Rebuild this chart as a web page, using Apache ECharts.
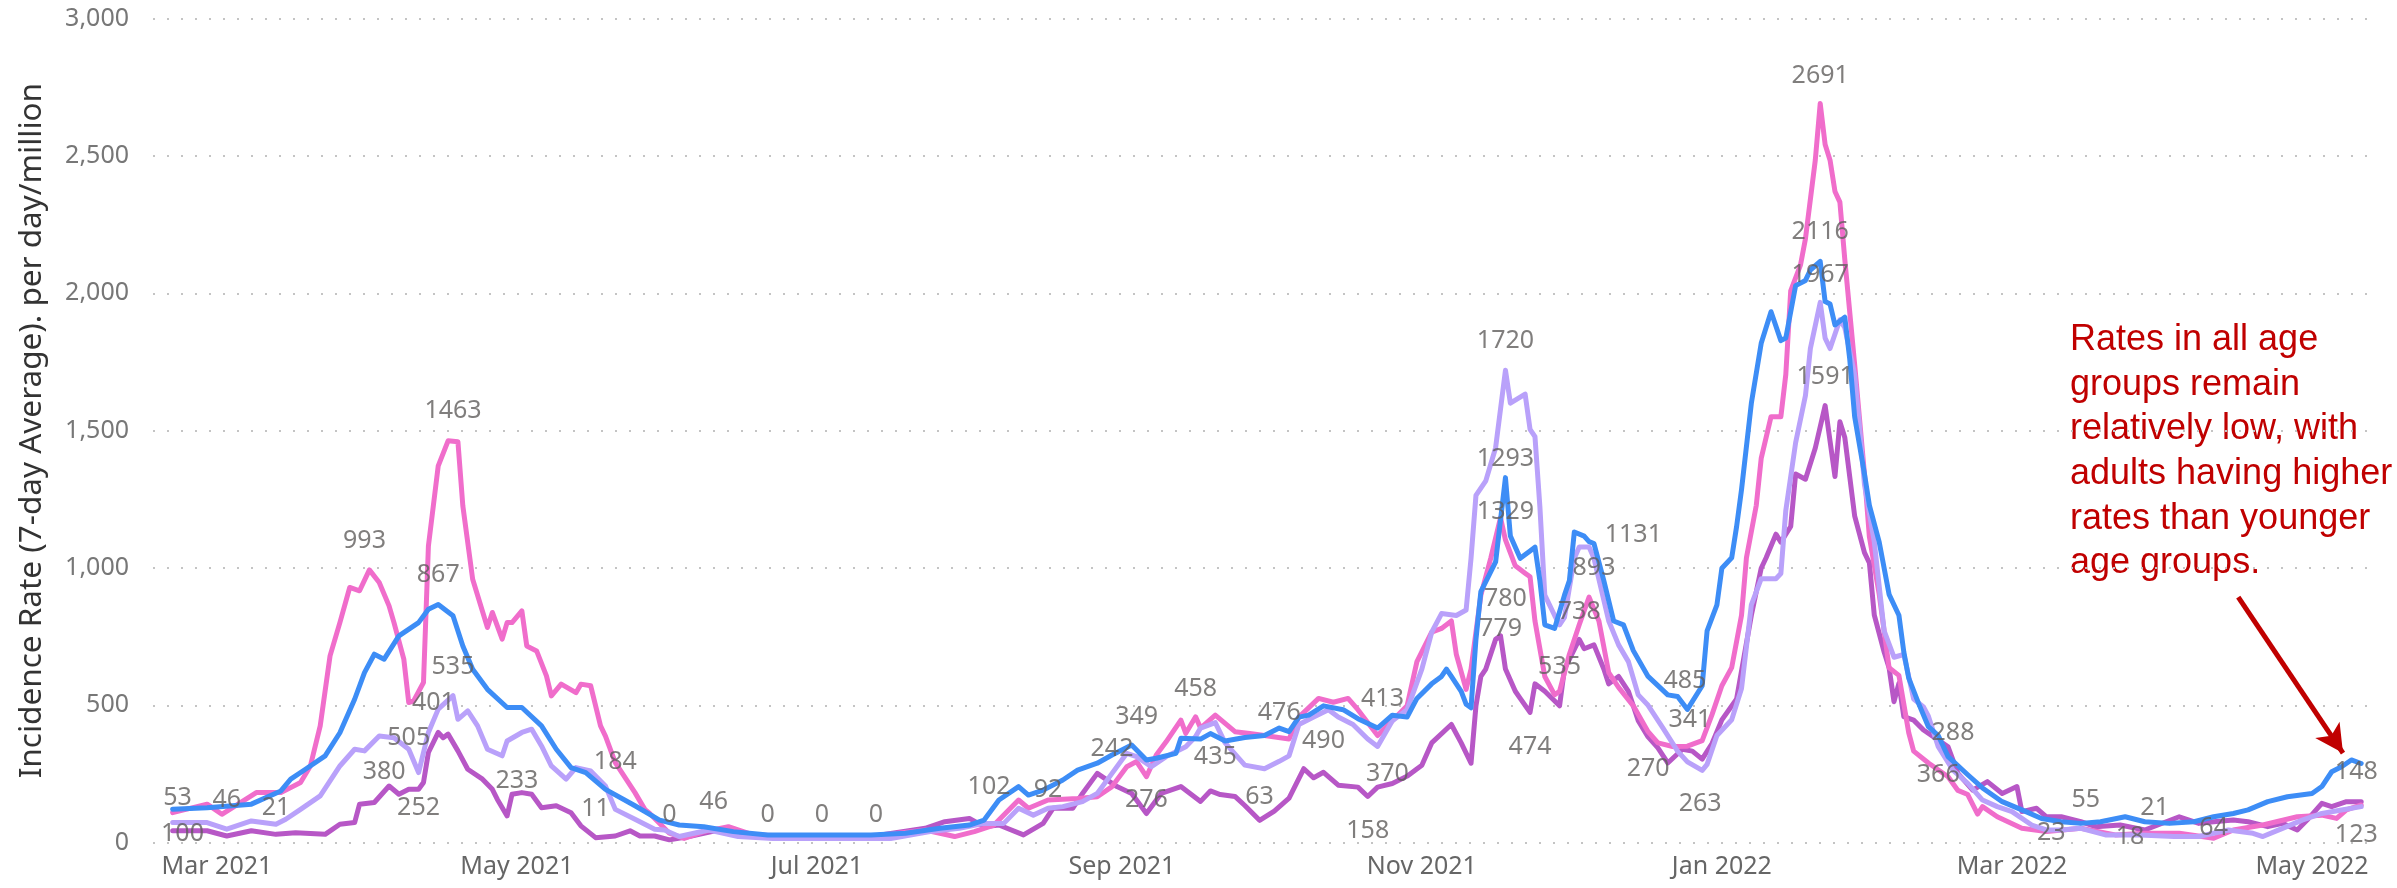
<!DOCTYPE html>
<html>
<head>
<meta charset="utf-8">
<script src="https://cdn.jsdelivr.net/npm/echarts@6/dist/echarts.min.js"></script>
<style>
html,body{margin:0;padding:0;background:#ffffff;}
#chart{width:2397px;height:888px;}
</style>
</head>
<body>
<div id="chart"></div>
<script>
// Day offsets are counted from 2021-03-01 (day 0).
const xTickDays = [0, 61, 122, 184, 245, 306, 365, 426];
const xTickLabels = ['Mar 2021', 'May 2021', 'Jul 2021', 'Sep 2021', 'Nov 2021', 'Jan 2022', 'Mar 2022', 'May 2022'];
const yTicks = [0, 500, 1000, 1500, 2000, 2500, 3000];

// [day, rate] – blue series
const seriesBlue = [[-9,121],[-2,127],[7,140],[13,188],[15,231],[18,267],[22,316],[25,400],[28,522],[30,619],[32,686],[34,668],[37,753],[41,801],[43,850],[45,867],[48,826],[50,716],[52,631],[55,558],[59,492],[62,492],[66,425],[69,340],[72,273],[75,255],[79,194],[85,134],[90,82],[94,64],[99,58],[105,40],[112,28],[121,28],[133,28],[140,34],[147,52],[153,64],[156,82],[159,155],[163,204],[165,173],[168,191],[172,228],[175,264],[179,289],[182,319],[186,355],[189,301],[191,307],[195,325],[196,380],[200,377],[202,397],[205,370],[209,383],[213,390],[216,417],[218,404],[220,457],[222,464],[225,498],[229,484],[232,451],[236,417],[239,464],[242,457],[244,525],[247,578],[249,605],[250,632],[251,605],[253,551],[254,504],[255,491],[256,740],[257,914],[260,1022],[262,1329],[263,1116],[265,1035],[267,1062],[268,1076],[269,954],[270,793],[272,780],[274,901],[275,954],[276,1131],[278,1116],[279,1096],[280,1089],[282,954],[284,807],[286,793],[288,699],[291,605],[295,538],[297,532],[299,485],[302,571],[303,771],[305,866],[306,999],[308,1037],[309,1151],[310,1285],[312,1600],[314,1818],[316,1933],[318,1828],[319,1837],[321,2028],[323,2047],[324,2085],[326,2116],[327,1970],[328,1961],[329,1885],[331,1913],[332,1761],[333,1551],[335,1342],[336,1228],[338,1094],[340,904],[342,828],[343,694],[344,599],[346,507],[348,422],[350,390],[352,313],[356,247],[359,199],[363,149],[367,119],[371,88],[375,76],[379,70],[383,76],[388,94],[392,76],[397,70],[402,76],[406,94],[410,106],[413,119],[417,149],[421,167],[426,179],[428,204],[430,258],[432,276],[434,301],[436,288]];

// [day, rate] – pink series
const seriesPink = [[-9,109],[-2,140],[1,103],[8,182],[13,182],[17,219],[19,279],[21,425],[23,680],[25,801],[27,929],[29,917],[31,993],[33,947],[35,862],[36,801],[38,668],[39,510],[40,516],[42,583],[43,1080],[45,1372],[47,1463],[49,1460],[50,1226],[52,959],[55,783],[56,838],[58,741],[59,801],[60,801],[62,844],[63,716],[65,698],[67,607],[68,534],[70,577],[73,546],[74,577],[76,571],[78,425],[79,388],[81,291],[85,182],[87,121],[88,106],[92,34],[95,15],[99,40],[104,58],[109,28],[121,22],[133,22],[144,46],[150,22],[154,40],[158,64],[161,119],[163,155],[165,125],[169,155],[175,161],[179,167],[182,204],[185,276],[187,295],[189,240],[191,319],[193,367],[196,446],[197,398],[199,458],[200,417],[203,464],[207,404],[210,397],[213,390],[218,377],[220,457],[224,525],[227,511],[230,525],[232,484],[236,390],[239,444],[242,498],[244,659],[247,766],[249,780],[251,807],[252,686],[254,558],[255,632],[257,901],[259,1035],[261,1183],[262,1102],[264,1008],[266,981],[267,968],[268,807],[270,605],[272,538],[273,551],[275,686],[277,793],[279,894],[281,807],[283,619],[285,565],[288,498],[291,404],[293,363],[296,350],[299,351],[302,371],[304,466],[306,571],[308,637],[310,828],[311,1037],[313,1228],[314,1399],[316,1551],[318,1551],[319,1704],[320,2009],[322,2104],[323,2199],[325,2485],[326,2691],[327,2542],[328,2485],[329,2371],[330,2332],[331,2123],[333,1742],[335,1342],[336,1113],[338,904],[340,637],[342,609],[344,400],[345,333],[348,290],[352,240],[354,190],[356,175],[358,104],[359,131],[362,94],[367,52],[372,40],[379,52],[386,28],[392,34],[399,34],[406,16],[410,46],[416,64],[423,94],[428,100],[431,88],[433,119],[436,137]];

// [day, rate] – light purple series
const seriesLavender = [[-9,73],[-2,73],[2,49],[7,79],[12,67],[14,85],[17,121],[21,170],[25,279],[28,340],[30,334],[33,388],[36,382],[39,340],[41,255],[43,401],[45,486],[48,535],[49,449],[51,480],[53,425],[55,340],[58,316],[59,370],[62,401],[64,413],[66,352],[68,279],[71,231],[73,273],[76,261],[79,206],[81,121],[85,85],[89,49],[91,46],[94,22],[100,46],[106,22],[113,15],[125,15],[137,15],[145,40],[151,52],[156,70],[160,70],[163,125],[166,100],[169,125],[172,131],[176,149],[179,179],[182,252],[185,325],[187,313],[190,276],[193,313],[197,349],[199,386],[200,417],[203,437],[205,363],[209,282],[213,269],[216,296],[218,316],[220,430],[223,457],[226,484],[228,457],[231,430],[234,377],[236,350],[239,444],[242,484],[245,632],[247,766],[249,834],[252,827],[254,847],[255,1035],[256,1264],[258,1317],[260,1438],[262,1720],[263,1600],[266,1633],[267,1505],[268,1478],[269,1223],[270,901],[272,827],[273,793],[274,820],[276,1035],[277,1076],[279,1076],[280,1035],[283,807],[285,720],[287,659],[289,538],[291,500],[294,418],[297,333],[299,294],[302,263],[303,285],[305,390],[308,447],[310,561],[312,866],[314,961],[317,961],[318,980],[319,1209],[321,1456],[323,1628],[324,1799],[326,1967],[327,1837],[328,1799],[330,1904],[331,1875],[333,1704],[334,1513],[335,1304],[337,1094],[339,771],[341,675],[343,685],[345,523],[347,494],[348,460],[350,349],[353,264],[356,216],[359,155],[362,131],[365,113],[369,64],[372,46],[375,46],[379,52],[384,28],[391,28],[398,22],[403,22],[409,46],[414,34],[416,22],[420,52],[424,82],[428,106],[432,119],[436,131]];

// [day, rate] – dark purple series
const seriesPlum = [[-9,43],[-2,43],[2,24],[7,43],[12,30],[16,36],[22,30],[25,67],[28,73],[29,140],[32,146],[35,206],[37,176],[39,194],[41,194],[42,219],[43,328],[45,401],[46,382],[47,395],[49,334],[51,267],[54,231],[56,194],[57,158],[59,97],[60,176],[62,182],[64,176],[66,127],[69,134],[72,109],[74,61],[77,18],[81,24],[84,43],[86,24],[89,24],[92,10],[96,22],[102,46],[109,22],[121,22],[133,22],[144,52],[148,76],[153,88],[156,58],[159,64],[164,28],[168,70],[170,125],[174,125],[176,179],[179,252],[183,204],[186,179],[189,106],[192,179],[196,204],[200,150],[202,188],[204,175],[207,168],[209,135],[212,81],[215,115],[218,162],[221,269],[223,236],[225,256],[228,209],[232,202],[234,168],[236,202],[239,215],[242,242],[245,282],[247,363],[251,430],[253,363],[255,289],[256,498],[257,605],[258,632],[260,740],[261,753],[262,632],[264,551],[265,525],[267,474],[268,578],[270,551],[273,498],[274,632],[277,740],[278,706],[280,720],[282,632],[283,578],[285,605],[287,551],[289,444],[291,385],[293,345],[295,290],[298,340],[300,333],[302,304],[304,361],[306,447],[309,523],[312,828],[314,999],[315,1037],[317,1123],[318,1094],[320,1151],[321,1342],[323,1323],[325,1437],[327,1591],[329,1333],[330,1532],[331,1475],[333,1190],[335,1056],[336,1018],[337,828],[339,694],[340,637],[341,513],[342,580],[343,459],[345,446],[347,410],[349,386],[352,349],[354,252],[357,191],[360,222],[363,179],[366,204],[367,113],[370,125],[372,94],[375,94],[379,76],[382,58],[387,64],[392,46],[399,94],[403,70],[406,76],[410,82],[413,76],[417,58],[420,70],[423,46],[425,82],[428,143],[430,131],[433,149],[436,149]];

// Data labels as shown in the picture: [day, rate at label centre, text]
const dataLabels = [[-8,162,'53'],[-7,30,'100'],[2,155,'46'],[12,127,'21'],[30,1099,'993'],[34,257,'380'],[39,382,'505'],[41,127,'252'],[44,510,'401'],[48,641,'535'],[45,975,'867'],[48,1572,'1463'],[61,225,'233'],[77,121,'11'],[81,294,'184'],
[92,100,'0'],[101,149,'46'],[112,100,'0'],[123,100,'0'],[134,100,'0'],[157,204,'102'],[169,191,'92'],[182,343,'242'],[187,459,'349'],[189,155,'276'],[199,561,'458'],[203,313,'435'],
[216,471,'476'],[225,370,'490'],[212,168,'63'],[237,525,'413'],[238,249,'370'],[234,41,'158'],[262,1828,'1720'],[262,1398,'1293'],[262,1203,'1329'],[262,887,'780'],[261,780,'779'],[267,350,'474'],[273,639,'535'],[277,840,'738'],[280,1001,'893'],[288,1120,'1131'],[291,269,'270'],[298.5,590,'485'],[299.5,447,'341'],[301.6,142,'263'],
[326,2793,'2691'],[326,2222,'2116'],[326,2066,'1967'],[327,1695,'1591'],[353,398,'288'],[350,246,'366'],[373,34,'23'],[380,155,'55'],[389,22,'18'],[394,125,'21'],[406,52,'64'],[435,258,'148'],[435,28,'123']];

const annotationLines = ['Rates in all age', 'groups remain', 'relatively low, with', 'adults having higher', 'rates than younger', 'age groups.'];
const arrowFrom = [411, 894];
const arrowTo = [432.3, 326];

function fmtThousands(v) {
  return String(v).replace(/\B(?=(\d{3})+(?!\d))/g, ',');
}

function lineSeries(name, pts, color, z) {
  return {
    type: 'line',
    name: name,
    data: pts,
    showSymbol: false,
    symbol: 'none',
    z: z,
    silent: true,
    lineStyle: { width: 5, color: color, join: 'round', cap: 'round' },
    itemStyle: { color: color }
  };
}

const chart = echarts.init(document.getElementById('chart'), null, { renderer: 'canvas' });
chart.setOption({
  animation: false,
  backgroundColor: '#ffffff',
  grid: { left: 153, right: 24, top: 18.7, bottom: 45.4, containLabel: false, outerBoundsMode: 'none' },
  xAxis: {
    type: 'value',
    min: -13,
    max: 438.4,
    axisLine: { show: false },
    axisTick: { show: false },
    splitLine: { show: false },
    axisLabel: {
      customValues: xTickDays,
      hideOverlap: false,
      color: '#666666',
      fontSize: 25,
      fontFamily: 'Noto Sans',
      margin: 12,
      formatter: function (v) {
        const i = xTickDays.indexOf(Math.round(v));
        return i >= 0 ? xTickLabels[i] : '';
      }
    }
  },
  yAxis: {
    type: 'value',
    min: yTicks[0],
    max: yTicks[yTicks.length - 1],
    interval: 500,
    name: 'Incidence Rate (7-day Average). per day/million',
    nameLocation: 'middle',
    nameGap: 105,
    nameRotate: 90,
    nameTextStyle: { fontSize: 31.5, color: '#333333', fontFamily: 'Noto Sans' },
    axisLine: { show: false },
    axisTick: { show: false },
    axisLabel: { formatter: v => fmtThousands(v), color: '#777777', fontSize: 25, fontFamily: 'Noto Sans', margin: 24 },
    splitLine: { show: true, lineStyle: { type: [2, 12], width: 2, color: '#c4c4c4' } }
  },
  series: [
    lineSeries('Group D', seriesPlum, '#B757C6', 2),
    lineSeries('Group B', seriesPink, '#F06DCB', 3),
    lineSeries('Group C', seriesLavender, '#B9A1FA', 4),
    lineSeries('Group A', seriesBlue, '#3D8DF6', 5),
    {
      type: 'scatter',
      name: 'labels',
      z: 10,
      silent: true,
      symbolSize: 1,
      itemStyle: { color: 'rgba(0,0,0,0)' },
      data: dataLabels,
      label: {
        show: true,
        position: 'inside',
        formatter: p => p.data[2],
        color: '#605E5C',
        fontSize: 25,
        fontFamily: 'Noto Sans'
      },
      markLine: {
        silent: true,
        symbol: ['none', 'arrow'],
        symbolSize: [22, 28],
        label: { show: false },
        lineStyle: { color: '#C00000', width: 5, type: 'solid' },
        data: [[{ coord: arrowFrom }, { coord: arrowTo }]]
      }
    }
  ],
  graphic: [{
    type: 'text',
    left: 2070,
    top: 318,
    silent: true,
    style: {
      text: annotationLines.join('\n'),
      fontSize: 36,
      fontFamily: '"Liberation Sans", Arial, sans-serif',
      fill: '#C00000',
      lineHeight: 44.6
    }
  }]
});
</script>
</body>
</html>
